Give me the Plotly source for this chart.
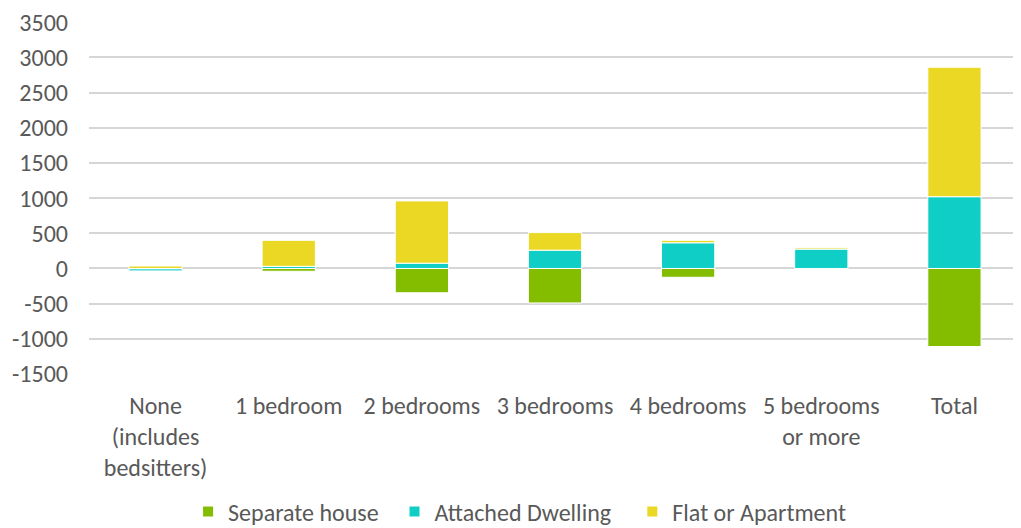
import plotly.graph_objects as go

categories = ["None<br>(includes<br>bedsitters)", "1 bedroom", "2 bedrooms", "3 bedrooms",
              "4 bedrooms", "5 bedrooms<br>or more", "Total"]
series_names = ["Separate house", "Attached Dwelling", "Flat or Apartment"]
separate_house = [-5, -40, -345, -490, -125, -3, -1110]
attached_dwelling = [-30, 30, 75, 260, 365, 275, 1020]
flat_apartment = [35, 370, 885, 250, 35, 20, 1840]
y_ticks = [-1500, -1000, -500, 0, 500, 1000, 1500, 2000, 2500, 3000, 3500]
y_tick_labels = [str(v) for v in y_ticks]

font_family = "Carlito, Liberation Sans, Arial, sans-serif"
text_color = "#595959"
colors = ["#84BC00", "#0ECEC6", "#EAD824"]
legend_pad = ["\u00a0\u00a0", "\u00a0\u00a0\u00a0", ""]

fig = go.Figure()
for name, vals, col, pad in zip(series_names,
                                [separate_house, attached_dwelling, flat_apartment],
                                colors, legend_pad):
    fig.add_trace(go.Bar(x=categories, y=vals, name=name + pad,
                         marker=dict(color=col, line=dict(color="white", width=1))))

# the page body has an 8px default margin, so the figure is sized to fit the window
fig.update_layout(
    barmode="relative",
    bargap=0.6,
    width=1013, height=520,
    margin=dict(l=81, r=0, t=14, b=154, autoexpand=False),
    paper_bgcolor="white", plot_bgcolor="white",
    font=dict(family=font_family, size=24, color=text_color),
    showlegend=True,
    legend=dict(orientation="h", x=0.462, xanchor="center", y=-0.392, yanchor="middle",
                font=dict(size=24, color=text_color), traceorder="normal",
                itemwidth=30, itemsizing="constant"),
)
fig.update_yaxes(range=[-1500, 3503], tickvals=y_ticks, ticktext=y_tick_labels,
                 showgrid=True, gridcolor="#D6D6D6", gridwidth=2, zeroline=False,
                 showline=False, ticklabelstandoff=20, ticklabeloverflow="allow",
                 fixedrange=True)
fig.update_xaxes(showgrid=False, showline=False, zeroline=False,
                 ticklabelstandoff=15, tickangle=0)

fig.write_html("out.html")
